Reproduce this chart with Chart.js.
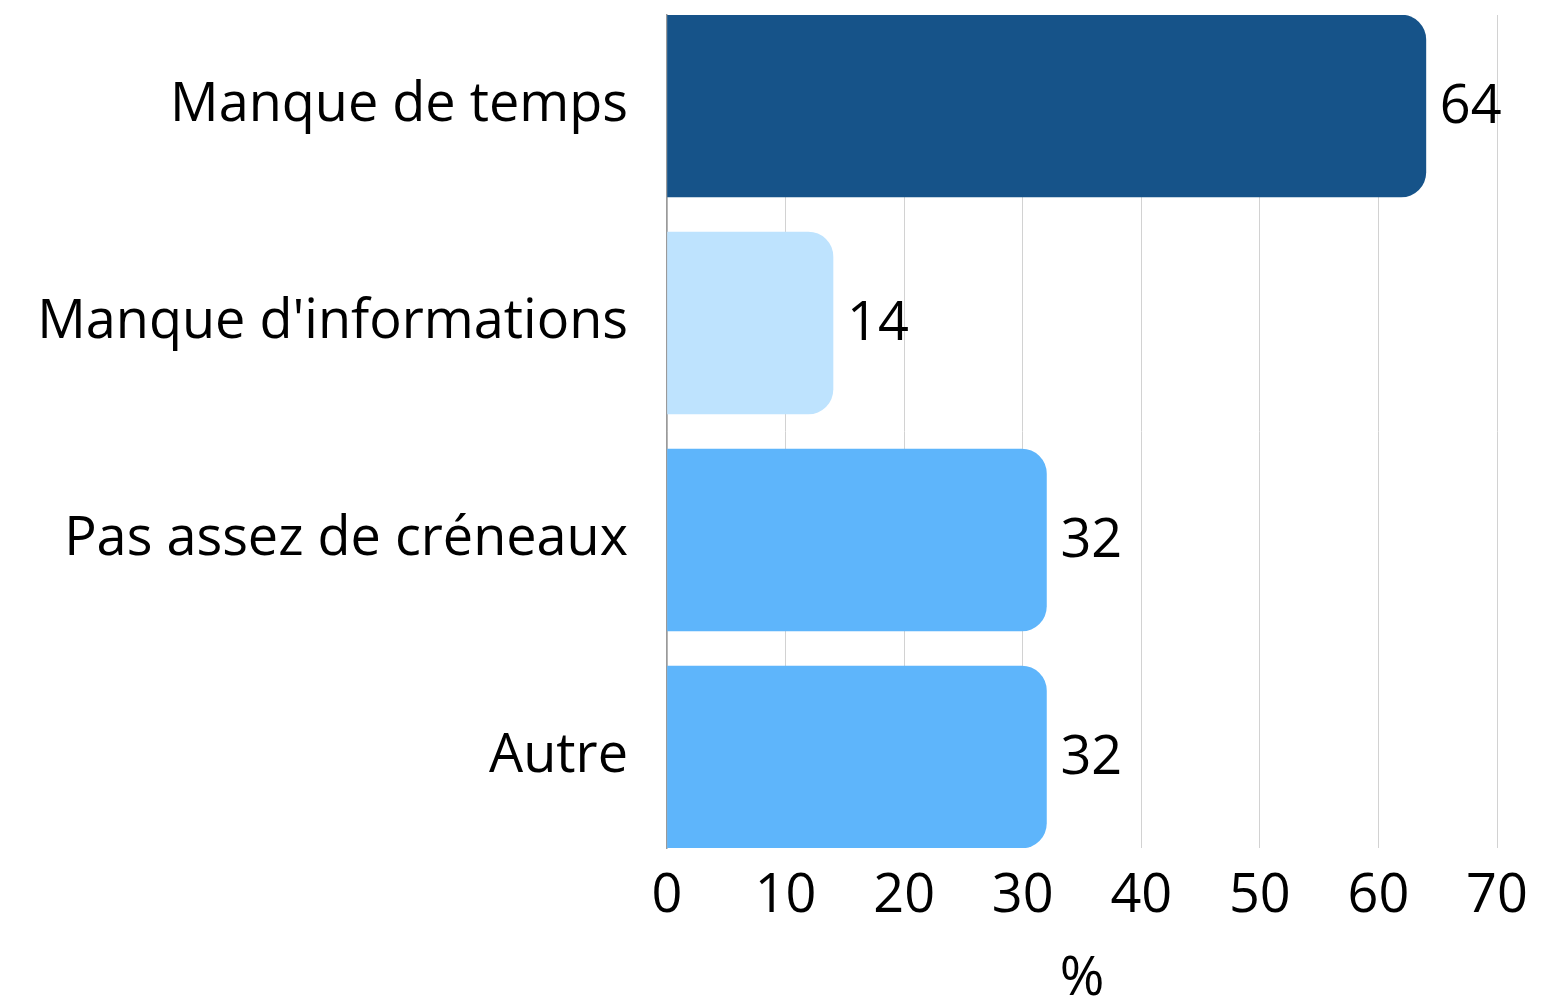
<!DOCTYPE html>
<html>
<head>
<meta charset="utf-8">
<script src="https://cdn.jsdelivr.net/npm/chart.js@4/dist/chart.umd.min.js"></script>
<style>
  html, body { margin: 0; padding: 0; background: #ffffff; }
  #wrap { width: 1568px; height: 1002px; }
  canvas { display: block; }
</style>
</head>
<body>
<div id="wrap"><canvas id="c" width="1568" height="1002"></canvas></div>
<script>
const categories = ["Manque de temps", "Manque d'informations", "Pas assez de créneaux", "Autre"];
const values = [64, 14, 32, 32];
const barColors = ["#165389", "#BEE3FE", "#5EB5FB", "#5EB5FB"];
const xTicks = [0, 10, 20, 30, 40, 50, 60, 70];
const xTitle = "%";

const FONT = "'Open Sans', 'Noto Sans', sans-serif";
const FSIZE = 54;
const HALF_BAND = 0.4194;

const points = values.map((v, i) => ({ x: v, y: i }));

const valueLabels = {
  id: 'valueLabels',
  afterDatasetsDraw(chart) {
    const ctx = chart.ctx;
    const meta = chart.getDatasetMeta(0);
    ctx.save();
    ctx.font = FSIZE + "px " + FONT;
    ctx.fillStyle = "#000000";
    ctx.textAlign = "left";
    ctx.textBaseline = "middle";
    meta.data.forEach((bar, i) => {
      ctx.fillText(String(values[i]), bar.x + 14, bar.y + 2);
    });
    ctx.restore();
  }
};

new Chart(document.getElementById('c'), {
  type: 'bar',
  data: {
    datasets: [{
      data: points,
      backgroundColor: barColors,
      borderWidth: 0,
      borderRadius: 25,
      borderSkipped: 'start',
      barThickness: 182
    }]
  },
  plugins: [valueLabels],
  options: {
    indexAxis: 'y',
    responsive: false,
    animation: false,
    devicePixelRatio: 1,
    layout: { padding: { top: 15, right: 71, bottom: 0, left: 0 } },
    plugins: { legend: { display: false }, tooltip: { enabled: false } },
    scales: {
      y: {
        type: 'linear',
        reverse: true,
        offset: false,
        bounds: 'data',
        afterDataLimits(scale) {
          scale.min = -HALF_BAND;
          scale.max = categories.length - 1 + HALF_BAND;
        },
        afterBuildTicks(scale) {
          scale.ticks = categories.map((_, i) => ({ value: i }));
        },
        afterFit(scale) {
          scale.width = 667;
          scale.paddingTop = 0;
          scale.paddingBottom = 0;
        },
        grid: { display: false, drawTicks: false, offset: false },
        border: { display: true, color: '#9a9a9a', width: 1.5 },
        ticks: {
          color: '#000000',
          padding: 39,
          font: { family: FONT, size: FSIZE },
          callback: (v) => categories[v]
        }
      },
      x: {
        type: 'linear',
        min: xTicks[0],
        max: xTicks[xTicks.length - 1],
        afterBuildTicks(scale) {
          scale.ticks = xTicks.map(v => ({ value: v }));
        },
        afterFit(scale) { scale.height = 154; },
        grid: { color: '#d2d2d2', lineWidth: 1, drawTicks: false },
        border: { display: false },
        ticks: {
          color: '#000000',
          padding: 16,
          maxRotation: 0,
          font: { family: FONT, size: FSIZE }
        },
        title: {
          display: true,
          text: xTitle,
          color: '#000000',
          font: { family: FONT, size: FSIZE },
          padding: { top: 0, bottom: -10 }
        }
      }
    }
  }
});
</script>
</body>
</html>
